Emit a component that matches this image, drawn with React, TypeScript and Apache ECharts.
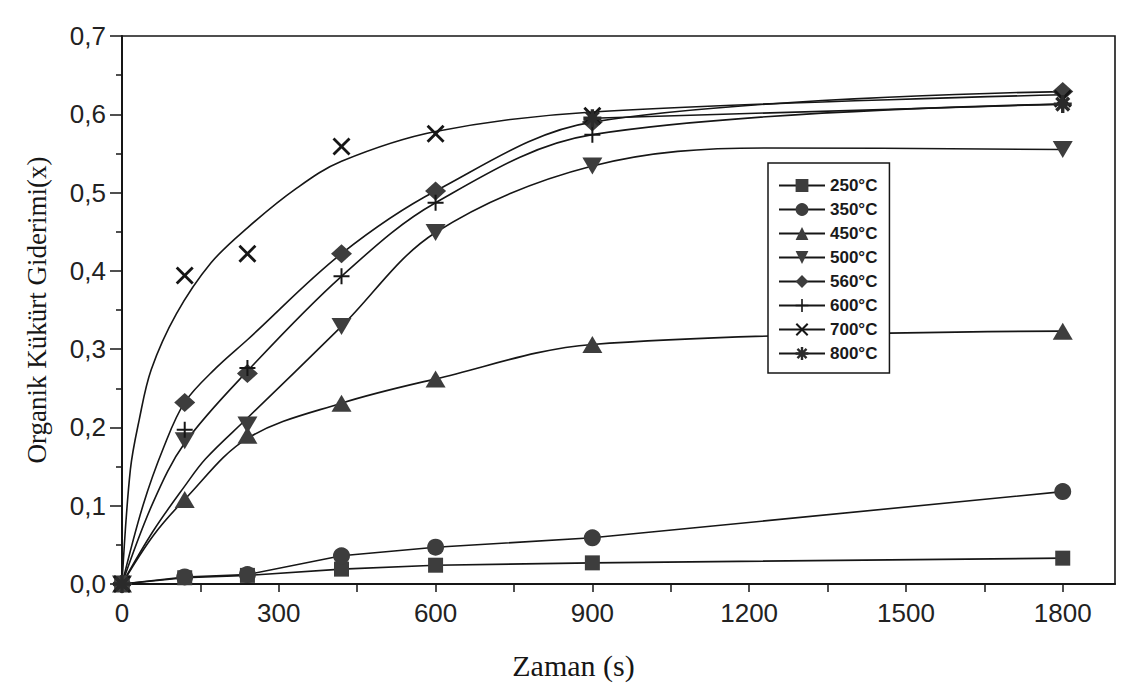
import { useEffect, useRef } from "react";
import * as echarts from "echarts";

// ---- data ----
const temps = ["250°C", "350°C", "450°C", "500°C", "560°C", "600°C", "700°C", "800°C"];
const times = [0, 120, 240, 420, 600, 900, 1800];
const v250 = [0, 0.008, 0.011, 0.019, 0.024, 0.027, 0.033];
const v350 = [0, 0.009, 0.012, 0.036, 0.047, 0.059, 0.118];
const v450 = [0, 0.108, 0.19, 0.231, 0.262, 0.306, 0.323];
const v500 = [0, 0.183, 0.203, 0.329, 0.449, 0.534, 0.555];
const v560 = [0, 0.232, 0.269, 0.422, 0.502, 0.59, 0.629];
const v600 = [0, 0.197, 0.276, 0.393, 0.487, 0.574, 0.613];
const v700 = [0, 0.394, 0.422, 0.559, 0.575, 0.598, 0.62];
const t800 = [0, 900, 1800];
const v800 = [0, 0.595, 0.613];

// fitted curves drawn in the figure
const c450T = [0, 60, 120, 240, 420, 600, 900, 1800];
const c450V = [0, 0.062, 0.108, 0.186, 0.231, 0.262, 0.306, 0.323];
const c500T = [0, 60, 120, 160, 240, 420, 600, 900, 1230, 1800];
const c500V = [0, 0.068, 0.125, 0.16, 0.212, 0.329, 0.449, 0.534, 0.557, 0.555];
const c560T = [0, 40, 80, 120, 180, 240, 420, 600, 900, 1800];
const c560V = [0, 0.1, 0.175, 0.232, 0.276, 0.312, 0.422, 0.502, 0.59, 0.629];
const c600T = [0, 60, 120, 240, 420, 600, 900, 1800];
const c600V = [0, 0.105, 0.18, 0.272, 0.393, 0.487, 0.574, 0.613];
const c700T = [0, 16, 33, 56, 104, 170, 240, 333, 420, 600, 900, 1800];
const c700V = [0, 0.146, 0.21, 0.274, 0.345, 0.41, 0.455, 0.505, 0.54, 0.578, 0.603, 0.625];
const c800T = [900, 1800];
const c800V = [0.595, 0.613];

const xTickValues = [0, 150, 300, 450, 600, 750, 900, 1050, 1200, 1350, 1500, 1650, 1800];
const xLabelValues = [0, 300, 600, 900, 1200, 1500, 1800];

// ---- symbols ----
const PLUS = "path://M-1,-8L1,-8L1,-1L8,-1L8,1L1,1L1,8L-1,8L-1,1L-8,1L-8,-1L-1,-1Z";
const CROSS =
  "path://M4.95,-6.36L6.36,-4.95L1.41,0L6.36,4.95L4.95,6.36L0,1.41L-4.95,6.36L-6.36,4.95L-1.41,0L-6.36,-4.95L-4.95,-6.36L0,-1.41Z";
const STAR =
  "path://M-1.5,-8L1.5,-8L1.5,-1.5L8,-1.5L8,1.5L1.5,1.5L1.5,8L-1.5,8L-1.5,1.5L-8,1.5L-8,-1.5L-1.5,-1.5Z" +
  "M4.6,-6.72L6.72,-4.6L2.12,0L6.72,4.6L4.6,6.72L0,2.12L-4.6,6.72L-6.72,4.6L-2.12,0L-6.72,-4.6L-4.6,-6.72L0,-2.12Z";

const zip = (a: number[], b: number[]) => a.map((x, i) => [x, b[i]]);

const MARK = "#3d3d3d";
const INK = "#161616";

const defs = [
  { name: temps[0], pt: times, pv: v250, ct: times, cv: v250, symbol: "rect", size: 15, rot: 0, smooth: false, color: MARK },
  { name: temps[1], pt: times, pv: v350, ct: times, cv: v350, symbol: "circle", size: 17, rot: 0, smooth: false, color: MARK },
  { name: temps[2], pt: times, pv: v450, ct: c450T, cv: c450V, symbol: "triangle", size: [20, 17], rot: 0, smooth: true, color: MARK },
  { name: temps[3], pt: times, pv: v500, ct: c500T, cv: c500V, symbol: "triangle", size: [20, 17], rot: 180, smooth: true, color: MARK },
  { name: temps[4], pt: times, pv: v560, ct: c560T, cv: c560V, symbol: "diamond", size: [21, 19], rot: 0, smooth: true, color: MARK },
  { name: temps[5], pt: times, pv: v600, ct: c600T, cv: c600V, symbol: PLUS, size: 16, rot: 0, smooth: true, color: INK },
  { name: temps[6], pt: times, pv: v700, ct: c700T, cv: c700V, symbol: CROSS, size: 18, rot: 0, smooth: true, color: INK },
  { name: temps[7], pt: t800, pv: v800, ct: c800T, cv: c800V, symbol: STAR, size: 18, rot: 0, smooth: true, color: "#2a2a2a" },
];

export default function App() {
  const ref = useRef<HTMLDivElement>(null);
  useEffect(() => {
    if (!ref.current) return;
    const chart = echarts.init(ref.current, null, { renderer: "svg" });
    const series: any[] = [];
    defs.forEach((d) => {
      series.push({
        type: "line",
        name: d.name,
        data: zip(d.ct, d.cv),
        smooth: d.smooth ? 0.35 : false,
        showSymbol: false,
        symbol: d.symbol,
        symbolSize: d.size,
        symbolRotate: d.rot,
        itemStyle: { color: d.color },
        lineStyle: { color: INK, width: 1.6 },
        silent: true,
        z: 2,
      });
    });
    defs.forEach((d) => {
      series.push({
        type: "scatter",
        name: d.name,
        data: zip(d.pt, d.pv),
        symbol: d.symbol,
        symbolSize: d.size,
        symbolRotate: d.rot,
        itemStyle: { color: d.color, opacity: 1 },
        z: 3,
      });
    });
    chart.setOption({
      animation: false,
      backgroundColor: "#ffffff",
      grid: {
        left: 122,
        right: 13,
        top: 36,
        bottom: 106,
        show: true,
        borderColor: INK,
        borderWidth: 1.6,
      },
      legend: {
        orient: "vertical",
        left: 768,
        top: 163,
        itemWidth: 46,
        itemHeight: 16,
        itemGap: 7,
        padding: [14, 12, 11, 10],
        borderColor: INK,
        borderWidth: 1.5,
        backgroundColor: "#ffffff",
        textStyle: { fontFamily: "Liberation Sans", fontSize: 17, fontWeight: "bold", color: "#1a1a1a" },
        data: temps,
      },
      xAxis: {
        type: "value",
        min: 0,
        max: 1900,
        axisLine: { show: true, onZero: false, lineStyle: { color: INK, width: 2 } },
        axisTick: { show: true, customValues: xTickValues, length: 8, lineStyle: { color: INK, width: 1.5 } },
        axisLabel: {
          customValues: xLabelValues,
          formatter: (v: number) => String(v),
          margin: 16,
          fontFamily: "Liberation Sans",
          fontSize: 26,
          color: "#222",
        },
        splitLine: { show: false },
        name: "Zaman (s)",
        nameLocation: "middle",
        nameGap: 66,
        nameTextStyle: { fontFamily: "Liberation Serif", fontSize: 30, color: INK, padding: [0, 90, 0, 0] },
      },
      yAxis: {
        type: "value",
        min: 0,
        max: 0.7,
        interval: 0.1,
        axisLine: { show: true, onZero: false, lineStyle: { color: INK, width: 2 } },
        axisTick: { show: true, length: 12, lineStyle: { color: INK, width: 1.5 } },
        minorTick: { show: true, splitNumber: 2, length: 6, lineStyle: { color: INK, width: 1.5 } },
        axisLabel: {
          formatter: (v: number) => v.toFixed(1).replace(".", ","),
          margin: 16,
          fontFamily: "Liberation Sans",
          fontSize: 26,
          color: "#222",
        },
        splitLine: { show: false },
        name: "Organik Kükürt Giderimi(x)",
        nameLocation: "middle",
        nameGap: 72,
        nameRotate: 90,
        nameTextStyle: { fontFamily: "Liberation Serif", fontSize: 27, color: INK },
      },
      series,
    });
    return () => chart.dispose();
  }, []);
  return (
    <div
      ref={ref}
      style={{ position: "fixed", left: 0, top: 0, width: 1128, height: 690, background: "#fff" }}
    />
  );
}
